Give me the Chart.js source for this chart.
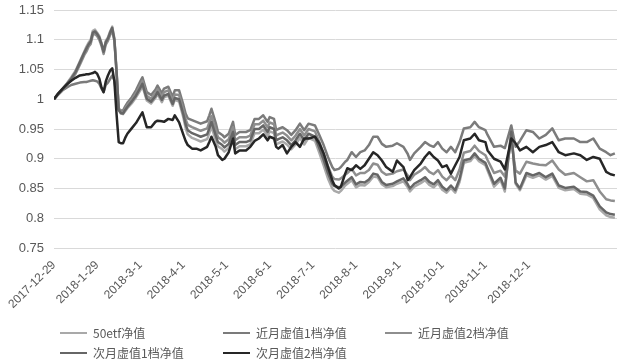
<!DOCTYPE html>
<html>
<head>
<meta charset="utf-8">
<script src="https://cdn.jsdelivr.net/npm/chart.js@4/dist/chart.umd.min.js"></script>
<style>
  html, body { margin: 0; padding: 0; background: #ffffff; }
  #wrap { position: relative; width: 620px; height: 364px; overflow: hidden; background: #fff; }
  #c { position: absolute; left: 0; top: 0; }
  #legend { position: absolute; left: 60px; top: 323px; display: grid;
            grid-template-columns: 163px 162px 162px; grid-auto-rows: 20px;
            font-family: "Noto Sans CJK SC", "Liberation Sans", sans-serif; font-size: 12px; color: #595959; }
  .item { display: flex; align-items: center; white-space: nowrap; line-height: 20px; }
  .swatch { display: inline-block; width: 27px; height: 2px; margin-right: 6px; }
</style>
</head>
<body>
<div id="wrap">
  <canvas id="c" width="620" height="364"></canvas>
  <div id="legend"></div>
</div>
<script>
// x position of each sample: trading-day (weekday) count since 2017-12-29
const days = [0,2,4,6,8,10,12,14,15,16,
  17,18,19,20,21,22,23,24,25,26,
  27,28,29,30,31,32,33,34,36,38,
  40,41,43,45,47,48,50,51,53,55,
  56,58,60,61,62,64,66,68,71,72,
  73,75,76,78,79,81,83,84,86,89,
  91,93,95,97,99,100,102,103,104,106,
  108,110,112,114,116,118,121,123,125,127,
  129,130,132,133,135,136,138,140,142,144,
  146,148,150,152,154,157,159,162,164,165,
  167,170,172,174,176,178,180,182,184,186,
  188,190,193,195,197,200,201,204,207,209,
  212,214,216,219,222,225,228,231,234,237,
  241,244,247,250,253,256,258,260];

const tickLabels = ["2017-12-29","2018-1-29","2018-3-1","2018-4-1","2018-5-1","2018-6-1",
  "2018-7-1","2018-8-1","2018-9-1","2018-10-1","2018-11-1","2018-12-1"];

const seriesNames = ["50etf净值","近月虚值1档净值","近月虚值2档净值","次月虚值1档净值","次月虚值2档净值"];

const etf = [1.000,1.010,1.018,1.027,1.037,1.048,1.064,1.080,1.088,1.095,
  1.100,1.115,1.117,1.112,1.106,1.095,1.080,1.098,1.104,1.114,
  1.122,1.102,1.048,0.982,0.976,0.975,0.980,0.985,0.993,1.003,
  1.015,1.022,0.998,0.993,1.002,1.009,0.995,1.003,1.006,0.989,
  0.999,0.996,0.969,0.952,0.941,0.935,0.932,0.929,0.933,0.943,
  0.954,0.931,0.921,0.916,0.912,0.918,0.938,0.916,0.921,0.921,
  0.924,0.943,0.943,0.949,0.938,0.946,0.943,0.924,0.926,0.929,
  0.924,0.916,0.924,0.935,0.924,0.935,0.930,0.910,0.889,0.867,
  0.850,0.846,0.843,0.846,0.855,0.858,0.864,0.852,0.856,0.855,
  0.861,0.870,0.869,0.857,0.852,0.854,0.858,0.862,0.852,0.845,
  0.853,0.859,0.864,0.856,0.852,0.859,0.848,0.843,0.851,0.843,
  0.861,0.893,0.896,0.905,0.896,0.889,0.880,0.853,0.864,0.845,
  0.947,0.858,0.847,0.872,0.868,0.872,0.865,0.871,0.851,0.847,
  0.849,0.841,0.840,0.834,0.815,0.805,0.802,0.801];

const near1 = [1.000,1.008,1.015,1.020,1.024,1.026,1.028,1.029,1.029,1.030,
  1.031,1.032,1.031,1.030,1.026,1.018,1.012,1.024,1.028,1.034,
  1.040,1.032,1.005,0.984,0.981,0.981,0.988,0.994,1.003,1.015,
  1.030,1.037,1.012,1.007,1.016,1.023,1.010,1.018,1.021,1.004,
  1.015,1.015,0.990,0.976,0.968,0.965,0.962,0.959,0.963,0.973,
  0.984,0.960,0.945,0.940,0.936,0.942,0.962,0.940,0.945,0.945,
  0.948,0.967,0.967,0.973,0.962,0.970,0.967,0.948,0.950,0.953,
  0.948,0.940,0.948,0.959,0.948,0.959,0.956,0.940,0.923,0.903,
  0.886,0.881,0.883,0.886,0.895,0.898,0.911,0.903,0.911,0.914,
  0.923,0.937,0.937,0.925,0.920,0.922,0.926,0.920,0.908,0.898,
  0.909,0.920,0.928,0.923,0.920,0.928,0.917,0.911,0.920,0.911,
  0.928,0.951,0.953,0.962,0.953,0.948,0.940,0.920,0.922,0.918,
  0.956,0.920,0.930,0.948,0.945,0.934,0.940,0.951,0.931,0.934,
  0.934,0.928,0.928,0.934,0.917,0.911,0.906,0.909];

const near2 = [1.000,1.009,1.016,1.024,1.033,1.043,1.058,1.074,1.080,1.088,
  1.093,1.108,1.110,1.106,1.100,1.090,1.076,1.092,1.098,1.108,
  1.116,1.098,1.045,0.984,0.979,0.978,0.984,0.990,0.999,1.010,
  1.024,1.031,1.006,1.001,1.010,1.017,1.004,1.012,1.015,0.998,
  1.008,1.007,0.981,0.966,0.957,0.953,0.950,0.947,0.951,0.961,
  0.972,0.949,0.936,0.931,0.927,0.933,0.953,0.931,0.936,0.936,
  0.939,0.958,0.958,0.964,0.953,0.961,0.958,0.939,0.941,0.944,
  0.939,0.931,0.939,0.950,0.939,0.950,0.946,0.928,0.909,0.888,
  0.870,0.866,0.865,0.867,0.873,0.876,0.883,0.872,0.876,0.876,
  0.881,0.892,0.890,0.878,0.873,0.875,0.879,0.882,0.872,0.864,
  0.873,0.880,0.886,0.878,0.874,0.881,0.870,0.864,0.872,0.864,
  0.882,0.910,0.913,0.922,0.913,0.906,0.898,0.876,0.880,0.870,
  0.930,0.880,0.875,0.895,0.892,0.890,0.889,0.897,0.882,0.873,
  0.876,0.869,0.862,0.864,0.845,0.832,0.830,0.829];

const next1 = [1.000,1.009,1.017,1.026,1.035,1.046,1.062,1.078,1.085,1.092,
  1.097,1.112,1.114,1.110,1.104,1.093,1.080,1.096,1.102,1.112,
  1.120,1.100,1.046,0.982,0.977,0.976,0.982,0.987,0.996,1.006,
  1.019,1.026,1.001,0.996,1.005,1.012,0.999,1.006,1.009,0.992,
  1.002,1.000,0.974,0.958,0.948,0.943,0.940,0.937,0.941,0.951,
  0.962,0.939,0.928,0.923,0.919,0.925,0.945,0.923,0.928,0.928,
  0.931,0.950,0.950,0.956,0.945,0.953,0.950,0.931,0.933,0.936,
  0.931,0.923,0.931,0.942,0.931,0.942,0.937,0.918,0.898,0.876,
  0.858,0.854,0.852,0.853,0.860,0.863,0.869,0.857,0.861,0.860,
  0.865,0.875,0.873,0.861,0.856,0.858,0.862,0.867,0.857,0.850,
  0.858,0.864,0.869,0.861,0.857,0.864,0.853,0.847,0.855,0.847,
  0.866,0.897,0.900,0.909,0.900,0.893,0.884,0.858,0.868,0.850,
  0.945,0.860,0.850,0.876,0.872,0.876,0.869,0.875,0.855,0.851,
  0.853,0.845,0.844,0.838,0.820,0.810,0.807,0.806];

const next2 = [1.000,1.010,1.018,1.025,1.031,1.036,1.040,1.041,1.042,1.042,
  1.043,1.044,1.046,1.043,1.035,1.020,1.012,1.030,1.040,1.048,
  1.052,1.030,0.975,0.928,0.926,0.926,0.935,0.942,0.951,0.960,
  0.972,0.978,0.953,0.953,0.962,0.964,0.963,0.962,0.967,0.965,
  0.973,0.961,0.940,0.930,0.923,0.917,0.917,0.914,0.920,0.928,
  0.937,0.920,0.906,0.898,0.900,0.911,0.934,0.909,0.914,0.914,
  0.920,0.930,0.934,0.941,0.931,0.937,0.934,0.920,0.917,0.923,
  0.909,0.920,0.928,0.920,0.934,0.934,0.937,0.926,0.909,0.886,
  0.864,0.856,0.850,0.853,0.875,0.884,0.881,0.889,0.883,0.889,
  0.900,0.911,0.906,0.897,0.886,0.878,0.897,0.886,0.864,0.869,
  0.881,0.892,0.903,0.911,0.903,0.897,0.886,0.889,0.875,0.889,
  0.903,0.931,0.934,0.942,0.931,0.928,0.914,0.900,0.895,0.882,
  0.934,0.926,0.914,0.920,0.911,0.920,0.923,0.928,0.911,0.906,
  0.909,0.906,0.898,0.903,0.900,0.878,0.874,0.872];

const seriesValues = [etf, near1, near2, next1, next2];
const seriesColors = ["#a9a9a9", "#7b7b7b", "#8e8e8e", "#666666", "#262626"];
const drawOrder = [4, 3, 2, 1, 0];

const datasets = seriesValues.map((vals, s) => ({
  label: seriesNames[s],
  data: days.map((d, i) => ({ x: d, y: vals[i] })),
  borderColor: seriesColors[s],
  backgroundColor: seriesColors[s],
  borderWidth: 2.5,
  pointRadius: 0,
  pointHoverRadius: 0,
  tension: 0,
  fill: false,
  borderJoinStyle: 'round',
  order: drawOrder[s]
}));

const chart = new Chart(document.getElementById('c'), {
  type: 'line',
  data: { datasets },
  options: {
    responsive: false,
    animation: false,
    devicePixelRatio: 1,
    layout: { padding: { top: 10, right: 3, left: 0, bottom: 0 } },
    plugins: { legend: { display: false }, tooltip: { enabled: false } },
    scales: {
      x: {
        type: 'linear',
        min: 0,
        max: 261,
        grid: { display: false },
        border: { display: false },
        ticks: {
          stepSize: 20,
          autoSkip: false,
          maxRotation: 45,
          minRotation: 45,
          padding: 2,
          color: '#595959',
          font: { family: '"Liberation Sans", Arial, sans-serif', size: 12 },
          callback: (v) => (v % 20 === 0 && tickLabels[v / 20]) ? tickLabels[v / 20] : ''
        },
        afterFit: (scale) => { scale.height = 116; scale.paddingLeft = 0; scale.paddingRight = 0; }
      },
      y: {
        min: 0.75,
        max: 1.15,
        grid: { color: '#d9d9d9', lineWidth: 1, drawTicks: false },
        border: { display: false },
        ticks: {
          stepSize: 0.05,
          padding: 10,
          color: '#595959',
          font: { family: '"Liberation Sans", Arial, sans-serif', size: 13 },
          callback: (v) => String(parseFloat(Number(v).toFixed(2)))
        },
        afterFit: (scale) => { scale.width = 54; scale.paddingTop = 0; scale.paddingBottom = 0; }
      }
    }
  }
});

// HTML legend built from the chart's datasets (Excel-style fixed columns)
const legend = document.getElementById('legend');
chart.data.datasets.forEach((ds) => {
  const item = document.createElement('div');
  item.className = 'item';
  const sw = document.createElement('span');
  sw.className = 'swatch';
  sw.style.background = ds.borderColor;
  const tx = document.createElement('span');
  tx.textContent = ds.label;
  item.appendChild(sw);
  item.appendChild(tx);
  legend.appendChild(item);
});
</script>
</body>
</html>
